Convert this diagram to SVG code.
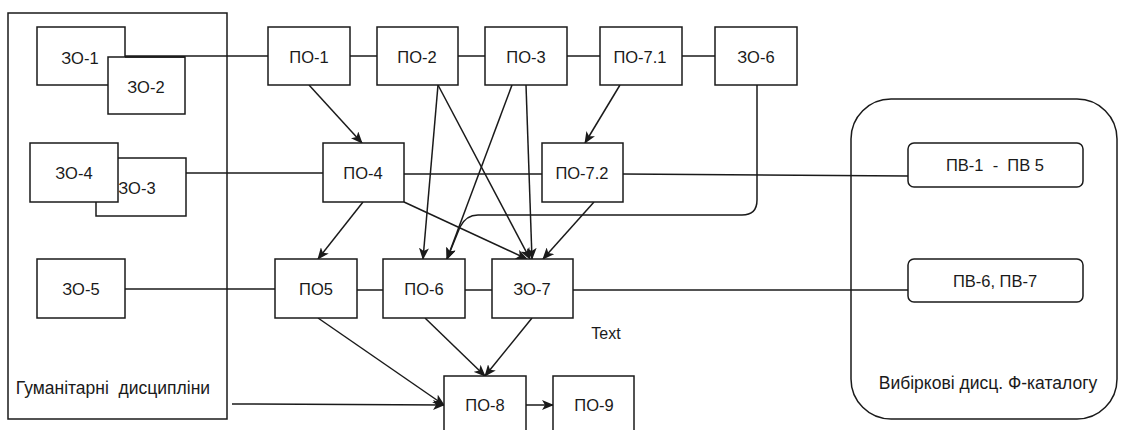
<svg xmlns="http://www.w3.org/2000/svg" width="1123" height="430" viewBox="0 0 1123 430">
<defs>
<style>
.box{fill:#fff;stroke:#1a1a1a;stroke-width:1.5}
.cont{fill:none;stroke:#1a1a1a;stroke-width:1.5}
.lbl{font-family:"Liberation Sans",Arial,sans-serif;font-size:16.5px;fill:#1a1a1a;text-anchor:middle;dominant-baseline:central}
.small{font-size:16px}
.big{font-size:17.5px}
.ln{fill:none;stroke:#1a1a1a;stroke-width:1.5}
.ar{fill:none;stroke:#1a1a1a;stroke-width:1.5;marker-end:url(#arr)}
</style>
<marker id="arr" viewBox="0 0 12 10" refX="11" refY="5" markerWidth="12" markerHeight="10" markerUnits="userSpaceOnUse" orient="auto">
<path d="M0,0 L12,5 L0,10 L3,5 Z" fill="#1a1a1a"/>
</marker>
</defs>
<rect width="1123" height="430" fill="#fff"/>

<g id="containers">
<rect id="hum" class="cont" x="8" y="13" width="219" height="406"/>
<rect id="vyb" class="cont" x="851" y="99" width="266" height="320" rx="40"/>
</g>

<g id="connectors">
<line class="ln" x1="125" y1="56" x2="268" y2="56"/>
<line class="ln" x1="350" y1="56" x2="377" y2="56"/>
<line class="ln" x1="458" y1="56" x2="485" y2="56"/>
<line class="ln" x1="567" y1="56" x2="600" y2="56"/>
<line class="ln" x1="682" y1="56" x2="715" y2="56"/>
<line class="ln" x1="186" y1="173" x2="323" y2="173"/>
<line class="ln" x1="404" y1="174" x2="542" y2="174"/>
<line class="ln" x1="623" y1="174" x2="908" y2="176"/>
<line class="ln" x1="125" y1="289" x2="275" y2="289"/>
<line class="ln" x1="357" y1="290" x2="383" y2="290"/>
<line class="ln" x1="465" y1="290" x2="492" y2="290"/>
<line class="ln" x1="573" y1="290" x2="908" y2="290"/>
<path class="ar" d="M309,85 L362,143"/>
<path class="ar" d="M620,85 L585,143"/>
<path class="ar" d="M438,85 L423,259"/>
<path class="ar" d="M438,85 L530,259"/>
<path class="ar" d="M512,85 L447,259"/>
<path class="ar" d="M526,85 L532,259"/>
<path class="ar" d="M363,202 L318,259"/>
<path class="ar" d="M404,202 L527,259"/>
<path class="ar" d="M757,85 L757,200 Q757,215 742,215 L478,215 Q466,215 460,227 L447,259"/>
<path class="ar" d="M594,202 L543,259"/>
<path class="ar" d="M318,318 L444,405"/>
<path class="ar" d="M425,318 L485,376"/>
<path class="ar" d="M532,318 L485,376"/>
<path class="ar" d="M232,404 L444,405"/>
<path class="ar" d="M526,405 L553,405"/>
</g>

<g id="zo1"><rect class="box" x="37" y="27" width="88" height="58"/><text class="lbl" x="80" y="58">ЗО-1</text></g>
<g id="zo2"><rect class="box" x="108" y="57" width="77" height="57"/><text class="lbl" x="146" y="87">ЗО-2</text></g>
<line class="ln" x1="125" y1="57" x2="185" y2="57"/>
<g id="zo3"><rect class="box" x="96" y="158" width="90" height="58"/><text class="lbl" x="137" y="188">ЗО-3</text></g>
<g id="zo4"><rect class="box" x="30" y="143" width="88" height="59"/><text class="lbl" x="74" y="173">ЗО-4</text></g>
<g id="zo5"><rect class="box" x="37" y="259" width="88" height="59"/><text class="lbl" x="81" y="289">ЗО-5</text></g>
<text class="lbl big" x="113" y="388" xml:space="preserve">Гуманітарні  дисципліни</text>

<g id="po1"><rect class="box" x="268" y="27" width="82" height="58"/><text class="lbl" x="309" y="57">ПО-1</text></g>
<g id="po2"><rect class="box" x="377" y="27" width="81" height="58"/><text class="lbl" x="417" y="57">ПО-2</text></g>
<g id="po3"><rect class="box" x="485" y="27" width="82" height="58"/><text class="lbl" x="526" y="57">ПО-3</text></g>
<g id="po71"><rect class="box" x="600" y="27" width="82" height="58"/><text class="lbl" x="640" y="57">ПО-7.1</text></g>
<g id="zo6"><rect class="box" x="715" y="27" width="82" height="58"/><text class="lbl" x="756" y="57">ЗО-6</text></g>

<g id="po4"><rect class="box" x="323" y="143" width="81" height="59"/><text class="lbl" x="363" y="173">ПО-4</text></g>
<g id="po72"><rect class="box" x="542" y="143" width="81" height="59"/><text class="lbl" x="582" y="173">ПО-7.2</text></g>

<g id="po5"><rect class="box" x="275" y="259" width="82" height="59"/><text class="lbl" x="316" y="289">ПО5</text></g>
<g id="po6"><rect class="box" x="383" y="259" width="82" height="59"/><text class="lbl" x="424" y="289">ПО-6</text></g>
<g id="zo7"><rect class="box" x="492" y="259" width="81" height="59"/><text class="lbl" x="532" y="289">ЗО-7</text></g>
<text id="txt" class="lbl small" x="606" y="333">Text</text>

<g id="po8"><rect class="box" x="444" y="376" width="82" height="60"/><text class="lbl" x="485" y="405">ПО-8</text></g>
<g id="po9"><rect class="box" x="553" y="376" width="81" height="60"/><text class="lbl" x="594" y="405">ПО-9</text></g>

<g id="pv15"><rect class="box" x="908" y="143" width="175" height="44" rx="6"/><text class="lbl" x="995" y="165" xml:space="preserve">ПВ-1  -  ПВ 5</text></g>
<g id="pv67"><rect class="box" x="908" y="259" width="175" height="43" rx="6"/><text class="lbl" x="995" y="281">ПВ-6, ПВ-7</text></g>
<text class="lbl big" x="988" y="383">Вибіркові дисц. Ф-каталогу</text>
</svg>
